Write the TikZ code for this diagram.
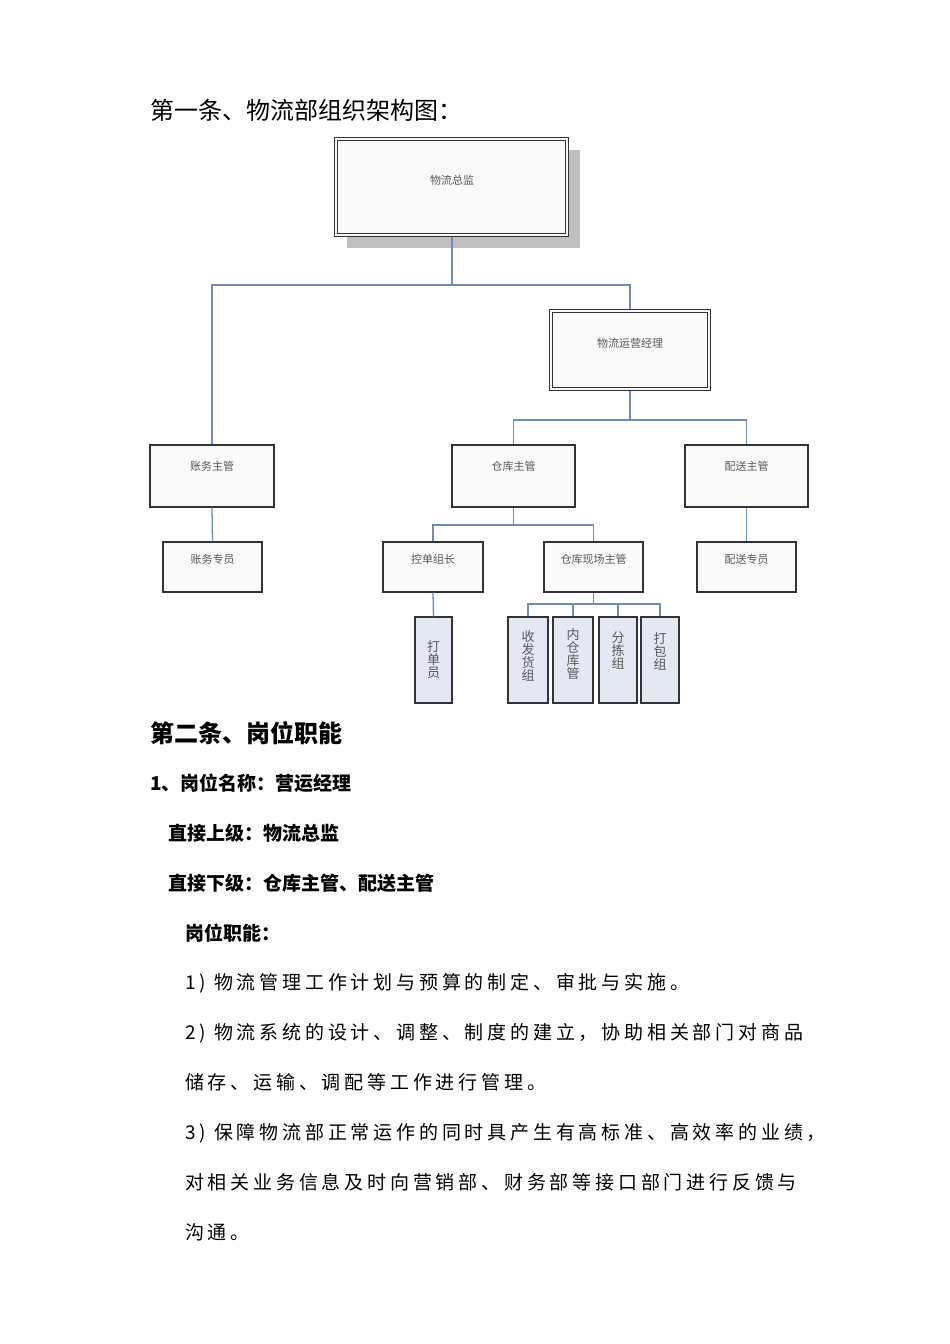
\documentclass[tikz,border=0pt]{standalone}
\usepackage{fontspec}
\setmainfont{Noto Sans CJK SC}
\newfontfamily\cjk{Noto Sans CJK SC}
\newfontfamily\cjks[LetterSpace=20]{Noto Sans CJK SC}
\definecolor{connc}{RGB}{110,140,190}
\definecolor{vfill}{RGB}{228,232,242}
\begin{document}
\begin{tikzpicture}[x=1pt,y=-1pt,
  box/.style={draw=black!80,line width=1.2pt,fill=black!2,font=\cjk\fontsize{11}{11}\selectfont,text=black!65},
  vbox/.style={draw=black!80,line width=1.2pt,fill=vfill},
  conn/.style={draw=connc,line width=1.3pt},
  dbl/.style={double=black!3,double distance=2pt,draw=black!80,line width=1pt,fill=black!2},
  body/.style={anchor=west,inner sep=0pt,font=\cjks\fontsize{19}{19}\selectfont},
  head/.style={anchor=west,inner sep=0pt,font=\cjk\bfseries\fontsize{19}{19}\selectfont}]
\useasboundingbox (0,0) rectangle (950,1344);
\fill[white] (0,0) rectangle (950,1344);
% title
\node[anchor=west,inner sep=0pt,font=\cjk\fontsize{24}{24}\selectfont] (t1) at (150,110) {第一条、物流部组织架构图：};
% boxes
\fill[black!25] (347,150) rectangle (580,248);
\draw[dbl] (336,139) rectangle (567,235);
\node[font=\cjk\fontsize{11}{11}\selectfont,text=black!65] (zj) at (452,180) {物流总监};
\coordinate (zjb) at (452,237);
\draw[dbl] (551,311) rectangle (709,389);
\node[font=\cjk\fontsize{11}{11}\selectfont,text=black!65] (jl) at (630,343) {物流运营经理};
\coordinate (jlt) at (630,309);
\coordinate (jlb) at (630,391);
\node[box,minimum width=124pt,minimum height=62pt,text depth=30pt,text height=18pt] (zw) at (212,476) {账务主管};
\node[box,minimum width=123pt,minimum height=62pt,text depth=30pt,text height=18pt] (ck) at (513.5,476) {仓库主管};
\node[box,minimum width=123pt,minimum height=62pt,text depth=30pt,text height=18pt] (ps) at (746.5,476) {配送主管};
\node[box,minimum width=99pt,minimum height=50pt,text depth=22pt,text height=14pt] (zwy) at (212.5,567) {账务专员};
\node[box,minimum width=100pt,minimum height=50pt,text depth=22pt,text height=14pt] (kd) at (433,567) {控单组长};
\node[box,minimum width=99pt,minimum height=50pt,text depth=22pt,text height=14pt] (xc) at (593.5,567) {仓库现场主管};
\node[box,minimum width=99pt,minimum height=50pt,text depth=22pt,text height=14pt] (psy) at (746.5,567) {配送专员};
\foreach \n/\x/\w/\y/\t in {dd/433.5/37/660/{打\\单\\员},sf/528/40/656/{收\\发\\货\\组},nc/573/40/654/{内\\仓\\库\\管},fj/618/38/651/{分\\拣\\组},db/660/38/651/{打\\包\\组}}{
  \node[vbox,minimum width=\w pt,minimum height=86pt,inner sep=0pt] (\n) at (\x,660) {};
  \node[align=center,font=\cjk\fontsize{13}{13}\selectfont,text=black!65] at (\x,\y) {\t};
}
% connectors
\draw[conn] (zjb) -- (452,285) -| (zw.north);
\draw[conn] (452,285) -| (jlt);
\draw[conn] (jlb) -- (630,420) -| (ck.north);
\draw[conn] (630,420) -| (ps.north);
\draw[conn] (ck.south) -- (513.5,525) -| (kd.north);
\draw[conn] (513.5,525) -| (xc.north);
\draw[conn] (zw.south) -- (zwy.north);
\draw[conn] (ps.south) -- (psy.north);
\draw[conn] (kd.south) -- (dd.north);
\draw[conn] (xc.south) -- (593.5,604) -| (sf.north);
\draw[conn] (593.5,604) -| (db.north);
\draw[conn] (nc.north) -- (573,604);
\draw[conn] (fj.north) -- (618,604);
% text
\node[anchor=west,inner sep=0pt,font=\cjk\bfseries\fontsize{24}{24}\selectfont] (t2) at (150,733) {第二条、岗位职能};
\node[head] (h1) at (150,783) {1、岗位名称：营运经理};
\node[head] (h2) at (168,833) {直接上级：物流总监};
\node[head] (h3) at (168,883) {直接下级：仓库主管、配送主管};
\node[head] (h4) at (185,933) {岗位职能：};
\node[body] (b1) at (185,983) {1) 物流管理工作计划与预算的制定、审批与实施。};
\node[body] (b2) at (185,1033) {2) 物流系统的设计、调整、制度的建立，协助相关部门对商品};
\node[body] (b3) at (185,1082) {储存、运输、调配等工作进行管理。};
\node[body] (b4) at (185,1133) {3) 保障物流部正常运作的同时具产生有高标准、高效率的业绩，};
\node[body] (b5) at (185,1182) {对相关业务信息及时向营销部、财务部等接口部门进行反馈与};
\node[body] (b6) at (185,1232) {沟通。};
\end{tikzpicture}
\end{document}
